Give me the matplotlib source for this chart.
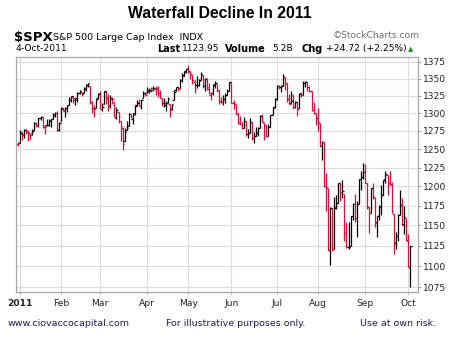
import numpy as np
import matplotlib
matplotlib.use('Agg')
import matplotlib.pyplot as plt
from matplotlib.ticker import FixedLocator, FixedFormatter, NullLocator

# daily bars, S&P 500: (open, high, low, close)
dec31 = [(1256.8, 1259.3, 1254.2, 1257.6)]
prev_close = 1259.8

jan = [(1257.6, 1276.2, 1257.6, 1271.9), (1272.9, 1274.1, 1262.7, 1270.2), (1268.8, 1277.6, 1265.4, 1276.6),
       (1276.3, 1278.2, 1270.4, 1273.9), (1274.4, 1276.8, 1261.7, 1271.5), (1270.8, 1271.5, 1262.2, 1269.8),
       (1272.6, 1277.6, 1269.6, 1274.5), (1275.7, 1286.9, 1275.7, 1286.0), (1285.8, 1286.7, 1280.5, 1283.8),
       (1282.9, 1293.2, 1281.1, 1293.2), (1293.2, 1296.1, 1290.2, 1295.0), (1294.5, 1294.6, 1278.9, 1281.9),
       (1280.9, 1283.4, 1271.3, 1280.3), (1283.6, 1291.2, 1282.1, 1283.4), (1283.3, 1291.9, 1282.5, 1290.8),
       (1288.2, 1291.3, 1281.1, 1291.2), (1291.9, 1299.7, 1291.0, 1296.6), (1297.5, 1301.3, 1294.4, 1299.5),
       (1299.6, 1302.7, 1275.1, 1276.3), (1276.5, 1287.2, 1275.0, 1286.1)]
feb = [(1289.1, 1308.9, 1289.1, 1307.6), (1305.9, 1307.6, 1302.6, 1304.0), (1302.8, 1308.6, 1294.8, 1307.1),
       (1307.0, 1311.0, 1301.7, 1310.9), (1311.9, 1322.9, 1311.9, 1319.1), (1318.8, 1324.9, 1316.0, 1324.6),
       (1322.5, 1324.5, 1314.9, 1320.9), (1318.1, 1322.0, 1311.6, 1321.9), (1318.7, 1330.8, 1316.1, 1329.2),
       (1328.7, 1332.9, 1326.9, 1332.3), (1330.4, 1330.4, 1324.6, 1328.0), (1329.5, 1337.6, 1329.5, 1336.3),
       (1334.4, 1341.5, 1331.0, 1340.4), (1340.4, 1344.1, 1338.1, 1343.0), (1338.9, 1338.9, 1312.3, 1315.4),
       (1315.4, 1317.9, 1299.6, 1307.4), (1307.1, 1310.9, 1294.3, 1306.1), (1307.3, 1320.6, 1307.3, 1319.9),
       (1321.6, 1329.4, 1320.9, 1327.2)]
mar = [(1328.6, 1332.1, 1306.1, 1306.3), (1305.5, 1314.2, 1302.6, 1308.4), (1312.4, 1332.3, 1312.4, 1331.0),
       (1330.7, 1331.1, 1312.6, 1321.2), (1322.7, 1327.7, 1303.0, 1310.1), (1311.1, 1325.7, 1306.9, 1321.8),
       (1319.9, 1323.2, 1312.3, 1320.0), (1315.7, 1315.7, 1294.2, 1295.1), (1293.4, 1308.4, 1291.0, 1304.3),
       (1301.2, 1301.2, 1286.4, 1296.4), (1288.5, 1288.5, 1261.1, 1281.9), (1279.5, 1280.9, 1249.1, 1256.9),
       (1261.6, 1278.9, 1261.6, 1273.7), (1276.7, 1288.9, 1276.2, 1279.2), (1281.7, 1300.6, 1281.7, 1298.4),
       (1298.3, 1299.4, 1292.7, 1293.8), (1292.2, 1300.5, 1284.1, 1297.5), (1300.6, 1311.3, 1297.7, 1309.7),
       (1311.8, 1319.2, 1310.2, 1313.8), (1315.5, 1319.7, 1310.2, 1310.2), (1309.4, 1319.5, 1305.3, 1319.4),
       (1321.9, 1331.7, 1321.9, 1328.3), (1327.4, 1329.8, 1325.0, 1325.8)]
apr = [(1329.5, 1337.9, 1328.9, 1332.4), (1333.6, 1336.7, 1329.1, 1332.9), (1332.0, 1338.2, 1330.0, 1332.6),
       (1335.9, 1339.4, 1331.1, 1335.5), (1334.8, 1338.8, 1326.6, 1333.5), (1336.2, 1339.5, 1322.9, 1328.2),
       (1329.0, 1333.2, 1321.1, 1324.5), (1321.4, 1321.4, 1309.6, 1314.2), (1314.0, 1321.4, 1309.2, 1314.4),
       (1311.1, 1316.8, 1302.4, 1314.5), (1314.5, 1322.9, 1313.7, 1319.7), (1313.4, 1313.4, 1294.7, 1305.1),
       (1305.9, 1312.7, 1303.9, 1312.6), (1319.1, 1332.7, 1319.1, 1330.4), (1333.2, 1337.5, 1332.0, 1337.4),
       (1337.1, 1337.6, 1331.7, 1335.3), (1336.8, 1349.6, 1336.8, 1347.2), (1348.4, 1357.5, 1344.3, 1355.7),
       (1353.9, 1361.7, 1353.6, 1360.5), (1360.1, 1364.6, 1358.7, 1363.6)]
may = [(1365.2, 1370.6, 1358.6, 1361.2), (1359.8, 1360.8, 1349.5, 1356.6), (1355.9, 1355.9, 1341.5, 1347.3),
       (1344.2, 1348.0, 1329.2, 1335.1), (1340.2, 1354.4, 1335.6, 1340.2), (1340.2, 1349.4, 1338.6, 1346.3),
       (1348.3, 1359.4, 1348.3, 1357.2), (1354.5, 1354.5, 1336.4, 1342.1), (1339.4, 1351.1, 1332.0, 1348.7),
       (1348.7, 1350.5, 1333.4, 1337.8), (1334.8, 1343.3, 1327.3, 1329.5), (1326.1, 1330.4, 1318.5, 1329.0),
       (1328.5, 1341.8, 1326.6, 1340.7), (1342.4, 1346.8, 1336.1, 1343.6), (1342.0, 1342.0, 1330.7, 1333.3),
       (1333.1, 1333.1, 1312.6, 1317.4), (1317.7, 1323.7, 1313.9, 1316.3), (1316.4, 1325.9, 1311.8, 1320.5),
       (1320.6, 1328.5, 1314.4, 1325.7), (1325.7, 1334.6, 1325.7, 1331.1), (1331.1, 1345.2, 1331.1, 1345.2)]
jun = [(1345.2, 1345.2, 1313.7, 1314.6), (1314.6, 1318.0, 1305.6, 1312.9), (1312.9, 1312.9, 1297.9, 1300.2),
       (1300.3, 1300.3, 1284.9, 1286.2), (1286.3, 1296.2, 1284.7, 1284.9), (1284.6, 1287.0, 1277.4, 1279.6),
       (1279.6, 1294.5, 1279.6, 1289.0), (1288.3, 1288.3, 1268.3, 1271.0), (1271.3, 1277.0, 1265.6, 1271.8),
       (1272.2, 1292.5, 1272.2, 1287.9), (1287.9, 1287.9, 1261.9, 1265.4), (1265.5, 1274.1, 1258.1, 1267.6),
       (1268.6, 1279.8, 1267.4, 1271.5), (1271.5, 1280.4, 1267.6, 1278.4), (1278.4, 1297.6, 1278.4, 1295.5),
       (1295.5, 1298.6, 1286.8, 1287.1), (1286.6, 1286.6, 1262.9, 1283.5), (1283.0, 1283.9, 1267.2, 1268.5),
       (1268.4, 1284.9, 1267.5, 1280.1), (1280.2, 1296.8, 1280.2, 1296.7), (1296.9, 1309.2, 1296.9, 1307.4),
       (1308.0, 1321.9, 1307.6, 1320.6)]
jul = [(1320.6, 1341.0, 1318.2, 1339.7), (1339.6, 1340.9, 1334.3, 1337.9), (1337.6, 1340.9, 1330.9, 1339.2),
       (1339.6, 1356.5, 1339.6, 1353.2), (1352.4, 1352.4, 1333.7, 1343.8), (1343.3, 1343.3, 1316.4, 1319.5),
       (1319.6, 1327.2, 1313.3, 1313.6), (1314.5, 1331.5, 1314.5, 1317.7), (1317.7, 1327.0, 1306.0, 1308.9),
       (1308.9, 1317.7, 1307.4, 1316.1), (1315.9, 1315.9, 1295.9, 1305.4), (1307.1, 1328.1, 1307.1, 1326.7),
       (1328.7, 1330.4, 1323.7, 1325.8), (1325.7, 1347.0, 1325.7, 1343.8), (1343.8, 1346.1, 1336.9, 1345.0),
       (1344.3, 1344.3, 1331.1, 1337.4), (1337.4, 1338.5, 1329.6, 1331.9), (1331.9, 1331.9, 1303.5, 1304.9),
       (1304.8, 1316.3, 1299.2, 1300.7), (1300.1, 1300.1, 1282.9, 1292.3)]
aug = [(1292.6, 1307.4, 1274.7, 1286.9), (1286.6, 1286.6, 1254.0, 1254.1), (1254.3, 1261.2, 1234.6, 1260.3),
       (1260.2, 1260.2, 1199.5, 1200.1), (1200.3, 1218.1, 1168.1, 1199.4), (1198.5, 1198.5, 1119.3, 1119.5),
       (1120.2, 1172.9, 1101.5, 1172.5), (1171.8, 1171.8, 1118.0, 1120.8), (1121.3, 1186.3, 1121.3, 1172.6),
       (1172.9, 1189.0, 1170.7, 1178.8), (1178.9, 1204.5, 1178.9, 1204.5), (1204.2, 1204.2, 1180.5, 1192.8),
       (1192.9, 1208.5, 1184.5, 1193.9), (1189.6, 1189.6, 1131.0, 1140.7), (1140.5, 1154.5, 1122.0, 1123.5),
       (1123.6, 1154.0, 1121.2, 1123.8), (1124.4, 1162.4, 1124.4, 1162.4), (1162.2, 1178.6, 1156.3, 1177.6),
       (1176.7, 1190.7, 1155.0, 1159.3), (1158.9, 1181.2, 1135.9, 1176.8), (1177.9, 1210.3, 1177.9, 1210.1),
       (1209.8, 1220.1, 1195.8, 1212.9), (1213.0, 1230.7, 1209.4, 1218.9)]
sep = [(1219.1, 1229.3, 1203.9, 1204.4), (1203.9, 1203.9, 1170.6, 1174.0), (1174.0, 1174.0, 1140.1, 1165.2),
       (1165.9, 1198.6, 1165.9, 1198.6), (1198.0, 1204.4, 1183.3, 1185.9), (1185.4, 1185.4, 1148.4, 1154.2),
       (1153.5, 1162.5, 1136.1, 1162.3), (1162.6, 1176.4, 1157.4, 1172.9), (1173.3, 1202.4, 1162.7, 1188.7),
       (1189.4, 1209.1, 1189.4, 1209.1), (1209.2, 1220.1, 1204.5, 1216.0), (1215.0, 1215.0, 1188.4, 1204.1),
       (1204.5, 1220.4, 1201.3, 1202.1), (1203.6, 1206.3, 1166.2, 1166.8), (1164.6, 1164.6, 1114.2, 1129.6),
       (1128.8, 1141.7, 1121.4, 1136.4), (1136.9, 1164.2, 1131.1, 1163.0), (1163.3, 1195.9, 1163.3, 1175.4),
       (1175.4, 1184.7, 1150.4, 1151.1), (1151.7, 1175.1, 1139.9, 1160.4), (1159.9, 1159.9, 1131.3, 1131.4)]
oct_ = [(1131.2, 1139.0, 1098.9, 1099.2), (1097.4, 1125.1, 1074.8, 1124.0)]

month_labels = ['2011', 'Feb', 'Mar', 'Apr', 'May', 'Jun', 'Jul', 'Aug', 'Sep', 'Oct']
y_ticks = [1075, 1100, 1125, 1150, 1175, 1200, 1225, 1250, 1275, 1300, 1325, 1350, 1375]

months = [jan, feb, mar, apr, may, jun, jul, aug, sep, oct_]
bars = np.array(dec31 + sum(months, []))
o, h, l, c = bars.T
x = np.arange(len(bars)) - 1          # Dec 31 sits at -1, Jan 3 at 0
month_starts = np.concatenate([[0], np.cumsum([len(m) for m in months])[:-1]])

prev = np.concatenate([[prev_close], c[:-1]])
red = '#d4103c'
colors = np.where(c < prev, red, 'black')

W, H = 450, 338
fig = plt.figure(figsize=(4.5, 3.38), dpi=100)
ax = fig.add_axes([16.3 / W, 1 - 292 / H, (417.7 - 16.3) / W, (292 - 56.7) / H])
ax.set_yscale('log')
ax.set_ylim(1069.5, 1382.5)
ax.set_xlim(-1.8, 193.7)

for xv in month_starts:
    ax.axvline(xv, color='#dcdcdc', lw=0.8, zorder=0)
for yv in y_ticks:
    ax.axhline(yv, color='#dcdcdc', lw=0.8, zorder=0)

tk = 0.75
ax.vlines(x, l, h, colors=colors, lw=0.9)
ax.hlines(o, x - tk, x, colors=colors, lw=0.9)
ax.hlines(c, x, x + tk, colors=colors, lw=0.9)

ax.yaxis.tick_right()
ax.yaxis.set_major_locator(FixedLocator(y_ticks))
ax.yaxis.set_major_formatter(FixedFormatter([str(v) for v in y_ticks]))
ax.yaxis.set_minor_locator(NullLocator())
ax.xaxis.set_major_locator(FixedLocator(month_starts))
ax.xaxis.set_major_formatter(FixedFormatter(month_labels))
ax.xaxis.set_minor_locator(NullLocator())
ax.tick_params(axis='y', length=2.5, width=0.6, color='#909090', pad=1.5, labelsize=6.6, labelcolor='#222222')
ax.tick_params(axis='x', length=1.5, width=0.6, color='#909090', pad=3.5, labelsize=6.6, labelcolor='#222222')
ax.get_xticklabels()[0].set_fontweight('bold')
for s in ax.spines.values():
    s.set_color('#a8a8a8')
    s.set_linewidth(0.9)


def put(xp, yp, s, **kw):
    fig.text(xp / W, 1 - yp / H, s, va='center', **kw)


put(220, 14, 'Waterfall Decline In 2011', ha='center', fontsize=11.3, fontweight='bold',
    family='Liberation Sans')
put(14, 37, '$SPX', fontsize=9.5, fontweight='bold')
put(53, 37.5, 'S&P 500 Large Cap Index  INDX', fontsize=6.8)
put(333, 35, '\u00a9StockCharts.com', fontsize=6.6, color='#707070')
put(15, 48.5, '4-Oct-2011', fontsize=6.6)
put(157, 48.5, 'Last', fontsize=7, fontweight='bold')
put(182, 48.5, '1123.95', fontsize=6.6)
put(225, 48.5, 'Volume', fontsize=7, fontweight='bold')
put(272, 48.5, '5.2B', fontsize=6.6)
put(302, 48.5, 'Chg', fontsize=7, fontweight='bold')
put(326, 48.5, '+24.72 (+2.25%)', fontsize=6.6)
put(408, 49, '\u25b2', fontsize=5, color='#2a8a2a')

navy = '#1e1e4e'
put(8, 324, 'www.ciovaccocapital.com', fontsize=6.8, color=navy)
put(166, 324, 'For illustrative purposes only.', fontsize=6.8, color=navy)
put(360, 324, 'Use at own risk.', fontsize=6.8, color=navy)

fig.savefig('out.png', dpi=100)
